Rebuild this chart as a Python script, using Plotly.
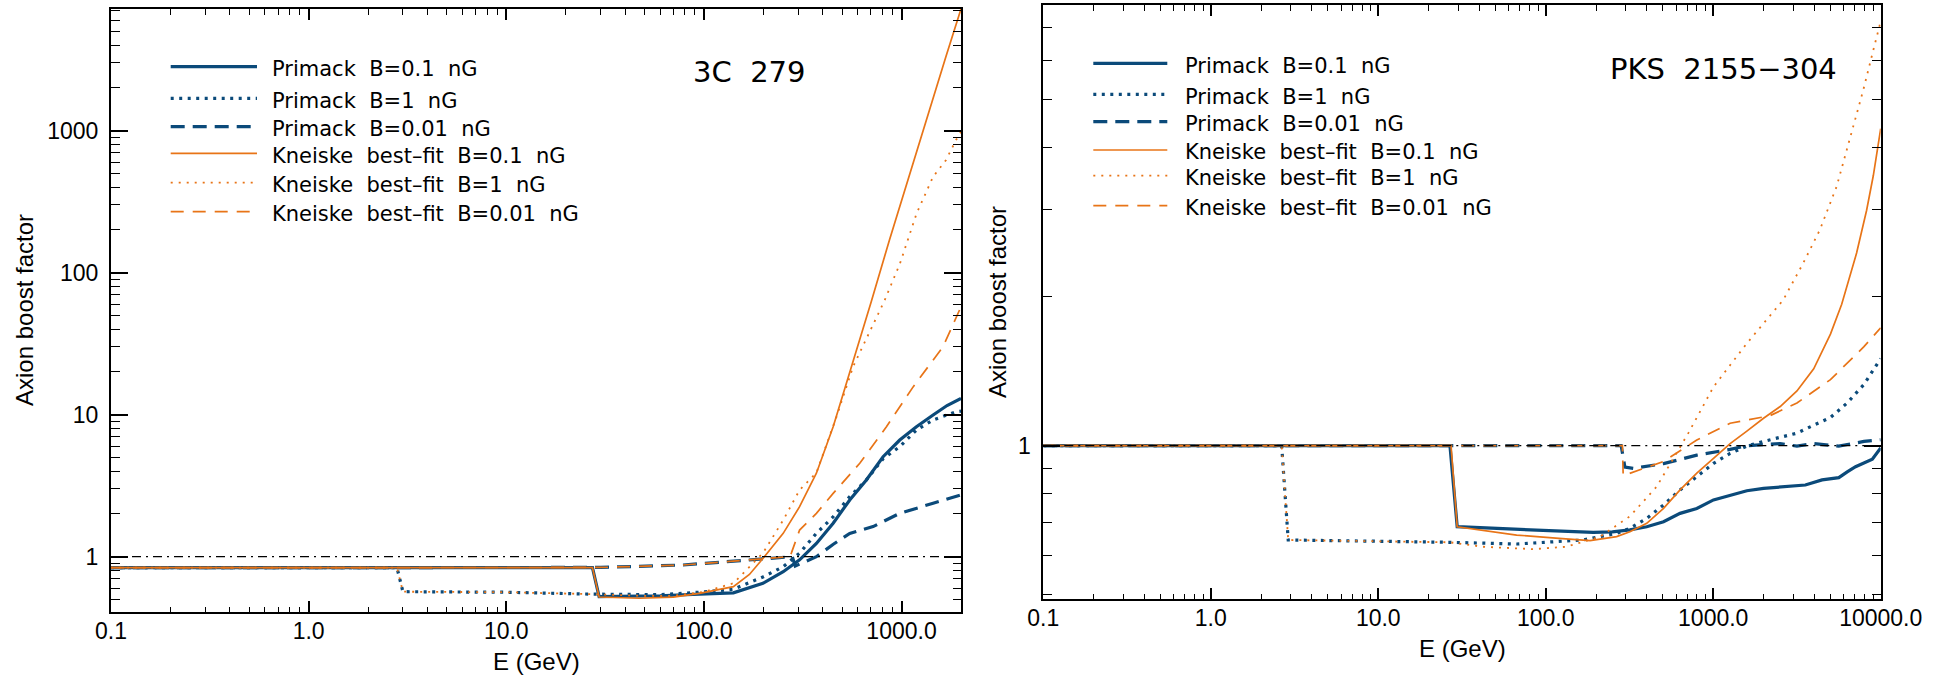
import math
import plotly.graph_objects as go

# ---------------- data: 3C 279 (left panel) ----------------
E_L_pb01 = [0.1, 27.3, 29.5, 40, 60, 95, 141, 199, 252, 305, 371, 451, 547, 664, 807, 980, 1190, 1445, 1700, 2000]
V_L_pb01 = [0.837, 0.837, 0.523, 0.527, 0.531, 0.545, 0.557, 0.65, 0.784, 0.95, 1.24, 1.72, 2.51, 3.47, 5.06, 6.63, 8.23, 9.95, 11.6, 13.0]

E_L_p1 = [0.1, 2.8, 3.0, 10, 27, 60, 100, 141, 199, 252, 305, 371, 451, 547, 664, 807, 980, 1190, 1445, 1888, 2000]
V_L_p1 = [0.837, 0.837, 0.567, 0.562, 0.545, 0.54, 0.565, 0.59, 0.72, 0.85, 1.06, 1.46, 1.91, 2.65, 3.47, 4.9, 5.95, 7.8, 9.18, 10.5, 10.6]

E_L_p001 = [0.1, 30, 78.5, 100, 141, 199, 250, 280, 290, 330, 371, 450, 547, 718, 980, 1445, 2000]
V_L_p001 = [0.837, 0.84, 0.874, 0.898, 0.93, 0.97, 1.0, 1.0, 0.86, 0.93, 1.0, 1.22, 1.46, 1.63, 2.02, 2.38, 2.72]

E_L_kb01 = [0.1, 27.3, 29.5, 47, 70, 95, 141, 170, 199, 252, 305, 371, 451, 547, 704, 869, 1096, 1439, 1680, 2000]
V_L_kb01 = [0.837, 0.837, 0.52, 0.51, 0.52, 0.552, 0.615, 0.75, 0.97, 1.46, 2.25, 3.87, 8.23, 19.6, 63, 170, 490, 1650, 3350, 7200]

E_L_k1 = [0.1, 2.8, 3.0, 10, 27, 50, 70, 100, 141, 199, 252, 305, 371, 469, 569, 718, 822, 982, 1193, 1445, 1680, 1888, 2000]
V_L_k1 = [0.837, 0.837, 0.567, 0.562, 0.545, 0.53, 0.53, 0.565, 0.65, 1.06, 1.81, 2.95, 3.9, 9.68, 21.8, 43, 64, 116, 262, 474, 622, 860, 984]

E_L_k001 = [0.1, 30, 78.5, 100, 141, 199, 250, 272, 277, 305, 371, 451, 615, 839, 1145, 1622, 2000]
V_L_k001 = [0.837, 0.84, 0.874, 0.898, 0.93, 0.97, 1.0, 1.0, 1.06, 1.54, 2.02, 2.79, 4.55, 8.23, 15.7, 30.1, 57.6]

# ---------------- data: PKS 2155-304 (right panel) ----------------
E_R_pb01 = [0.1, 26.8, 29.6, 60, 120, 192, 250, 318, 401, 505, 634, 798, 1004, 1262, 1588, 1997, 2512, 3162, 3548, 4467, 5623, 6310, 7080, 8913, 10000]
V_R_pb01 = [1.0, 1.0, 0.686, 0.68, 0.674, 0.668, 0.67, 0.676, 0.686, 0.702, 0.73, 0.747, 0.777, 0.795, 0.811, 0.82, 0.826, 0.833, 0.833, 0.853, 0.862, 0.885, 0.907, 0.939, 0.99]

E_R_p1 = [0.1, 2.65, 2.9, 10, 26.8, 67, 167, 265, 318, 401, 505, 634, 798, 1004, 1262, 1588, 1997, 2512, 3162, 3981, 5012, 6310, 7943, 10000]
V_R_p1 = [1.0, 1.0, 0.645, 0.642, 0.638, 0.633, 0.645, 0.665, 0.681, 0.713, 0.759, 0.814, 0.866, 0.921, 0.965, 0.998, 1.02, 1.04, 1.06, 1.10, 1.14, 1.22, 1.33, 1.50]

E_R_p001 = [0.1, 282, 297, 333, 505, 798, 1262, 1588, 2512, 3162, 3981, 5623, 7943, 10000]
V_R_p001 = [1.0, 1.0, 0.905, 0.90, 0.92, 0.957, 0.983, 1.0, 1.01, 0.998, 1.01, 0.998, 1.02, 1.028]

E_R_kb01 = [0.1, 27.2, 29.6, 67, 120, 184, 265, 318, 401, 505, 634, 798, 1004, 1262, 1588, 1997, 2512, 3162, 3981, 5012, 5850, 7180, 8240, 9030, 10000]
V_R_kb01 = [1.0, 1.0, 0.686, 0.66, 0.65, 0.643, 0.655, 0.67, 0.697, 0.747, 0.814, 0.88, 0.943, 1.01, 1.07, 1.136, 1.20, 1.29, 1.43, 1.68, 1.93, 2.45, 2.99, 3.51, 4.37]

E_R_k1 = [0.1, 2.65, 2.9, 10, 26.8, 42, 84, 133, 211, 318, 459, 710, 1004, 1588, 2618, 3451, 4335, 5458, 6546, 7870, 9036, 10000]
V_R_k1 = [1.0, 1.0, 0.645, 0.642, 0.638, 0.625, 0.618, 0.625, 0.655, 0.72, 0.826, 1.06, 1.315, 1.61, 1.97, 2.34, 2.73, 3.34, 4.15, 5.23, 6.3, 7.2]

E_R_k001 = [0.1, 287, 290, 318, 505, 798, 1262, 2183, 3162, 5012, 7943, 10000]
V_R_k001 = [1.0, 1.0, 0.87, 0.88, 0.929, 1.027, 1.11, 1.15, 1.22, 1.36, 1.585, 1.73]

NB = "\u00a0"
LABELS = ["Primack" + NB * 2 + "B=0.1" + NB * 2 + "nG",
          "Primack" + NB * 2 + "B=1" + NB * 2 + "nG",
          "Primack" + NB * 2 + "B=0.01" + NB * 2 + "nG",
          "Kneiske" + NB * 2 + "best\u2013fit" + NB * 2 + "B=0.1" + NB * 2 + "nG",
          "Kneiske" + NB * 2 + "best\u2013fit" + NB * 2 + "B=1" + NB * 2 + "nG",
          "Kneiske" + NB * 2 + "best\u2013fit" + NB * 2 + "B=0.01" + NB * 2 + "nG"]
SOURCES = ["3C" + NB * 2 + "279", "PKS" + NB * 2 + "2155\u2212304"]

X_TICKS_L = [0.1, 1, 10, 100, 1000]
X_TEXT_L = ["0.1", "1.0", "10.0", "100.0", "1000.0"]
X_TICKS_R = [0.1, 1, 10, 100, 1000, 10000]
X_TEXT_R = ["0.1", "1.0", "10.0", "100.0", "1000.0", "10000.0"]
Y_TICKS_L = [1, 10, 100, 1000]
Y_TEXT_L = ["1", "10", "100", "1000"]
Y_TICKS_R = [1]
Y_TEXT_R = ["1"]

# ---------------- styling ----------------
W, H = 1939, 675
BLUE = "#0b4a7a"
ORANGE = "#e87417"
STY = [dict(color=BLUE, width=3.2, dash="solid"),
       dict(color=BLUE, width=3.2, dash="3px,5.5px"),
       dict(color=BLUE, width=3.2, dash="14px,8px"),
       dict(color=ORANGE, width=1.7, dash="solid"),
       dict(color=ORANGE, width=1.8, dash="2px,6px"),
       dict(color=ORANGE, width=1.7, dash="13px,9px")]
REF_DASH = "9px,5px,2px,5px"


def fx(x):
    return x / W


def fy(y):
    return 1 - y / H


# panel frames in pixels (left, right, top, bottom)
FR_L = (111, 961, 9, 612)
FR_R = (1043.3, 1880.7, 5, 599.3)

fig = go.Figure()

left = [(E_L_pb01, V_L_pb01), (E_L_p1, V_L_p1), (E_L_p001, V_L_p001),
        (E_L_kb01, V_L_kb01), (E_L_k1, V_L_k1), (E_L_k001, V_L_k001)]
right = [(E_R_pb01, V_R_pb01), (E_R_p1, V_R_p1), (E_R_p001, V_R_p001),
         (E_R_kb01, V_R_kb01), (E_R_k1, V_R_k1), (E_R_k001, V_R_k001)]

for i, (e, v) in enumerate(left):
    fig.add_trace(go.Scatter(x=e, y=v, mode="lines", line=STY[i], name=LABELS[i],
                             showlegend=False, xaxis="x", yaxis="y"))
fig.add_trace(go.Scatter(x=[0.1, 2000], y=[1, 1], mode="lines",
                         line=dict(color="black", width=1.3, dash=REF_DASH),
                         showlegend=False, xaxis="x", yaxis="y"))
for i, (e, v) in enumerate(right):
    fig.add_trace(go.Scatter(x=e, y=v, mode="lines", line=STY[i], name=LABELS[i],
                             showlegend=False, xaxis="x2", yaxis="y2"))
fig.add_trace(go.Scatter(x=[0.1, 10000], y=[1, 1], mode="lines",
                         line=dict(color="black", width=1.3, dash=REF_DASH),
                         showlegend=False, xaxis="x2", yaxis="y2"))


def decade_minors(lo, hi):
    out = []
    d = -3
    while 10 ** d <= hi:
        for k in range(2, 10):
            val = k * 10 ** d
            if lo < val < hi:
                out.append(val)
        d += 1
    return out


TICKFONT = dict(family="Liberation Sans, Arial, sans-serif", size=23, color="black")


def xaxis_cfg(frame, rng, tv, tt):
    return dict(type="log", range=[math.log10(rng[0]), math.log10(rng[1])],
                domain=[fx(frame[0]), fx(frame[1])], automargin=False,
                showline=True, linecolor="black", linewidth=2, mirror="allticks",
                ticks="inside", ticklen=11, tickwidth=1.5, tickcolor="black",
                tickvals=tv, ticktext=tt, tickfont=TICKFONT, ticklabelstandoff=-3,
                showgrid=False, zeroline=False, fixedrange=True,
                minor=dict(tickmode="array", tickvals=decade_minors(rng[0], rng[1]),
                           ticks="inside", ticklen=5.5, tickwidth=1.3,
                           tickcolor="black", showgrid=False))


def yaxis_cfg(frame, rng, tv, tt, anchor):
    return dict(type="log", range=[math.log10(rng[0]), math.log10(rng[1])],
                domain=[fy(frame[3]), fy(frame[2])], anchor=anchor, automargin=False,
                showline=True, linecolor="black", linewidth=2, mirror="allticks",
                ticks="inside", ticklen=17, tickwidth=1.5, tickcolor="black",
                tickvals=tv, ticktext=tt, tickfont=TICKFONT, ticklabelstandoff=6,
                showgrid=False, zeroline=False, fixedrange=True,
                minor=dict(tickmode="array", tickvals=decade_minors(rng[0], rng[1]),
                           ticks="inside", ticklen=8.5, tickwidth=1.3,
                           tickcolor="black", showgrid=False))


# y-range from pixel calibration: left 1 -> y=556.7, 142 px/decade
YL = (10 ** ((556.7 - 612) / 142), 10 ** ((556.7 - 9) / 142))
YR = (10 ** ((445.7 - 599.3) / 495), 10 ** ((445.7 - 5) / 495))

xa = xaxis_cfg(FR_L, (0.1, 2000), X_TICKS_L, X_TEXT_L); xa["anchor"] = "y"
xa2 = xaxis_cfg(FR_R, (0.1, 10000), X_TICKS_R, X_TEXT_R); xa2["anchor"] = "y2"
ya = yaxis_cfg(FR_L, YL, Y_TICKS_L, Y_TEXT_L, "x")
ya2 = yaxis_cfg(FR_R, YR, Y_TICKS_R, Y_TEXT_R, "x2")

annotations = []
shapes = []
TITLEFONT = dict(family="Liberation Sans, Arial, sans-serif", size=24, color="black")
HFONT = dict(family="DejaVu Sans, sans-serif", size=21, color="black")

# axis titles
for cx, cy in [(536, 661), (1462, 648)]:
    annotations.append(dict(text="E (GeV)", x=fx(cx), y=fy(cy), xref="paper", yref="paper",
                            showarrow=False, xanchor="center", yanchor="middle", font=TITLEFONT))
for cx, cy in [(24, 310), (997, 302)]:
    annotations.append(dict(text="Axion boost factor", x=fx(cx), y=fy(cy), xref="paper",
                            yref="paper", showarrow=False, textangle=-90,
                            xanchor="center", yanchor="middle", font=TITLEFONT))

# source names
for name, (cx, cy) in zip(SOURCES, [(749, 72.5), (1723.5, 68.7)]):
    annotations.append(dict(text=name, x=fx(cx), y=fy(cy), xref="paper", yref="paper",
                            showarrow=False, xanchor="center", yanchor="middle",
                            font=dict(family="DejaVu Sans, sans-serif", size=29, color="black")))

# hand-drawn legends (long line samples as in the original)
LEG = [dict(x0=170.7, x1=257, xt=270, rows=[66.7, 98.3, 126.7, 153.3, 182.7, 211.7]),
       dict(x0=1093.3, x1=1167.3, xt=1183.3, rows=[63.3, 94.3, 121.7, 150, 175.7, 205.7])]
for lg in LEG:
    for i, ry in enumerate(lg["rows"]):
        shapes.append(dict(type="line", xref="paper", yref="paper",
                           x0=fx(lg["x0"]), x1=fx(lg["x1"]), y0=fy(ry), y1=fy(ry),
                           line=STY[i]))
        annotations.append(dict(text=LABELS[i], x=fx(lg["xt"]), y=fy(ry + 2.5),
                                xref="paper", yref="paper", showarrow=False,
                                xanchor="left", yanchor="middle", font=HFONT))

fig.update_layout(
    width=W, height=H, autosize=False,
    margin=dict(l=0, r=0, t=0, b=0, pad=0, autoexpand=False),
    paper_bgcolor="white", plot_bgcolor="white",
    xaxis=xa, yaxis=ya, xaxis2=xa2, yaxis2=ya2,
    annotations=annotations, shapes=shapes, showlegend=False,
)

fig.write_html("out.html")
